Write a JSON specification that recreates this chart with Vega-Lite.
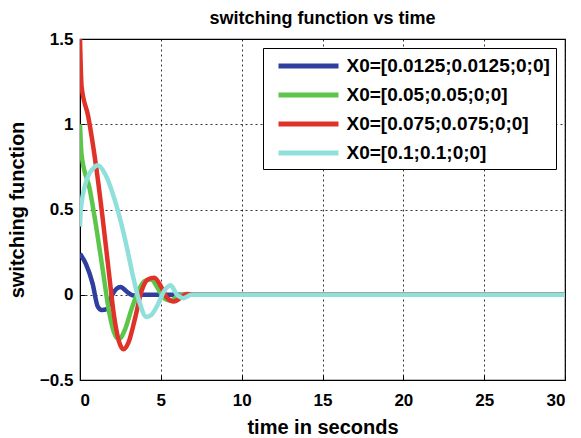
{
  "$schema": "https://vega.github.io/schema/vega-lite/v6.json",
  "width": 485,
  "height": 341,
  "autosize": "none",
  "padding": {"left": 80, "top": 39, "right": 15, "bottom": 58},
  "background": "white",
  "title": {"text": "switching function vs time", "font": "Liberation Sans", "fontSize": 18, "fontWeight": "bold", "color": "black", "offset": 2},
  "config": {
    "view": {"stroke": "black", "strokeWidth": 1.2},
    "axis": {
      "labelFont": "Liberation Sans", "labelFontSize": 17, "labelFontWeight": "bold", "labelColor": "black",
      "titleFont": "Liberation Sans", "titleFontSize": 20, "titleFontWeight": "bold", "titleColor": "black",
      "domainColor": "black", "tickColor": "black", "gridColor": "black", "gridDash": [2, 3], "gridOpacity": 1, "gridWidth": 0.8
    }
  },
  "data": {"values": [
    {"s": "X0=[0.0125;0.0125;0;0]", "t": 0, "v": 0.24},
    {"s": "X0=[0.0125;0.0125;0;0]", "t": 0.37, "v": 0.18},
    {"s": "X0=[0.0125;0.0125;0;0]", "t": 0.78, "v": 0.065},
    {"s": "X0=[0.0125;0.0125;0;0]", "t": 1.1, "v": -0.07},
    {"s": "X0=[0.0125;0.0125;0;0]", "t": 1.35, "v": -0.09},
    {"s": "X0=[0.0125;0.0125;0;0]", "t": 1.65, "v": -0.085},
    {"s": "X0=[0.0125;0.0125;0;0]", "t": 2.0, "v": 0.0},
    {"s": "X0=[0.0125;0.0125;0;0]", "t": 2.5, "v": 0.045},
    {"s": "X0=[0.0125;0.0125;0;0]", "t": 3.0, "v": 0.01},
    {"s": "X0=[0.0125;0.0125;0;0]", "t": 3.3, "v": -0.005},
    {"s": "X0=[0.0125;0.0125;0;0]", "t": 3.7, "v": 0},
    {"s": "X0=[0.0125;0.0125;0;0]", "t": 30, "v": 0},
    {"s": "X0=[0.05;0.05;0;0]", "t": 0, "v": 1.0},
    {"s": "X0=[0.05;0.05;0;0]", "t": 0.1, "v": 0.82},
    {"s": "X0=[0.05;0.05;0;0]", "t": 0.6, "v": 0.62},
    {"s": "X0=[0.05;0.05;0;0]", "t": 1.0, "v": 0.4},
    {"s": "X0=[0.05;0.05;0;0]", "t": 1.4, "v": 0.15},
    {"s": "X0=[0.05;0.05;0;0]", "t": 1.8, "v": -0.1},
    {"s": "X0=[0.05;0.05;0;0]", "t": 2.1, "v": -0.22},
    {"s": "X0=[0.05;0.05;0;0]", "t": 2.4, "v": -0.26},
    {"s": "X0=[0.05;0.05;0;0]", "t": 2.8, "v": -0.2},
    {"s": "X0=[0.05;0.05;0;0]", "t": 3.2, "v": -0.08},
    {"s": "X0=[0.05;0.05;0;0]", "t": 3.6, "v": 0.02},
    {"s": "X0=[0.05;0.05;0;0]", "t": 4.0, "v": 0.08},
    {"s": "X0=[0.05;0.05;0;0]", "t": 4.4, "v": 0.09},
    {"s": "X0=[0.05;0.05;0;0]", "t": 4.8, "v": 0.04},
    {"s": "X0=[0.05;0.05;0;0]", "t": 5.2, "v": -0.02},
    {"s": "X0=[0.05;0.05;0;0]", "t": 5.6, "v": -0.035},
    {"s": "X0=[0.05;0.05;0;0]", "t": 6.0, "v": -0.01},
    {"s": "X0=[0.05;0.05;0;0]", "t": 6.4, "v": 0},
    {"s": "X0=[0.05;0.05;0;0]", "t": 30, "v": 0},
    {"s": "X0=[0.075;0.075;0;0]", "t": 0, "v": 1.5},
    {"s": "X0=[0.075;0.075;0;0]", "t": 0.1, "v": 1.22},
    {"s": "X0=[0.075;0.075;0;0]", "t": 0.5, "v": 1.05},
    {"s": "X0=[0.075;0.075;0;0]", "t": 1.0, "v": 0.75},
    {"s": "X0=[0.075;0.075;0;0]", "t": 1.4, "v": 0.45},
    {"s": "X0=[0.075;0.075;0;0]", "t": 1.8, "v": 0.12},
    {"s": "X0=[0.075;0.075;0;0]", "t": 2.1, "v": -0.12},
    {"s": "X0=[0.075;0.075;0;0]", "t": 2.4, "v": -0.27},
    {"s": "X0=[0.075;0.075;0;0]", "t": 2.7, "v": -0.32},
    {"s": "X0=[0.075;0.075;0;0]", "t": 3.0, "v": -0.28},
    {"s": "X0=[0.075;0.075;0;0]", "t": 3.4, "v": -0.14},
    {"s": "X0=[0.075;0.075;0;0]", "t": 3.8, "v": 0.02},
    {"s": "X0=[0.075;0.075;0;0]", "t": 4.2, "v": 0.09},
    {"s": "X0=[0.075;0.075;0;0]", "t": 4.6, "v": 0.1},
    {"s": "X0=[0.075;0.075;0;0]", "t": 5.0, "v": 0.05},
    {"s": "X0=[0.075;0.075;0;0]", "t": 5.4, "v": -0.02},
    {"s": "X0=[0.075;0.075;0;0]", "t": 5.8, "v": -0.04},
    {"s": "X0=[0.075;0.075;0;0]", "t": 6.2, "v": -0.02},
    {"s": "X0=[0.075;0.075;0;0]", "t": 6.6, "v": 0.005},
    {"s": "X0=[0.075;0.075;0;0]", "t": 7.0, "v": 0},
    {"s": "X0=[0.075;0.075;0;0]", "t": 30, "v": 0},
    {"s": "X0=[0.1;0.1;0;0]", "t": 0, "v": 0.4},
    {"s": "X0=[0.1;0.1;0;0]", "t": 0.05, "v": 0.5},
    {"s": "X0=[0.1;0.1;0;0]", "t": 0.4, "v": 0.67},
    {"s": "X0=[0.1;0.1;0;0]", "t": 0.8, "v": 0.74},
    {"s": "X0=[0.1;0.1;0;0]", "t": 1.1, "v": 0.76},
    {"s": "X0=[0.1;0.1;0;0]", "t": 1.6, "v": 0.7},
    {"s": "X0=[0.1;0.1;0;0]", "t": 2.2, "v": 0.54},
    {"s": "X0=[0.1;0.1;0;0]", "t": 2.8, "v": 0.32},
    {"s": "X0=[0.1;0.1;0;0]", "t": 3.3, "v": 0.1},
    {"s": "X0=[0.1;0.1;0;0]", "t": 3.7, "v": -0.05},
    {"s": "X0=[0.1;0.1;0;0]", "t": 4.1, "v": -0.13},
    {"s": "X0=[0.1;0.1;0;0]", "t": 4.4, "v": -0.12},
    {"s": "X0=[0.1;0.1;0;0]", "t": 4.8, "v": -0.06},
    {"s": "X0=[0.1;0.1;0;0]", "t": 5.2, "v": 0.02},
    {"s": "X0=[0.1;0.1;0;0]", "t": 5.6, "v": 0.055},
    {"s": "X0=[0.1;0.1;0;0]", "t": 6.0, "v": 0.0},
    {"s": "X0=[0.1;0.1;0;0]", "t": 6.4, "v": -0.02},
    {"s": "X0=[0.1;0.1;0;0]", "t": 6.9, "v": 0},
    {"s": "X0=[0.1;0.1;0;0]", "t": 30, "v": 0}
  ]},
  "mark": {"type": "line", "strokeWidth": 4.5, "interpolate": "monotone", "clip": true},
  "encoding": {
    "x": {"field": "t", "type": "quantitative", "title": "time in seconds",
      "scale": {"domain": [0, 30], "nice": false},
      "axis": {"values": [0, 5, 10, 15, 20, 25, 30], "tickSize": -5, "labelPadding": 17, "titlePadding": 9, "format": "~g"}},
    "y": {"field": "v", "type": "quantitative", "title": "switching function",
      "scale": {"domain": [-0.5, 1.5], "nice": false, "zero": false},
      "axis": {"values": [-0.5, 0, 0.5, 1, 1.5], "tickSize": -5, "labelPadding": 12, "titlePadding": 12, "format": "~g"}},
    "color": {"field": "s", "type": "nominal", "sort": null,
      "scale": {"domain": ["X0=[0.0125;0.0125;0;0]", "X0=[0.05;0.05;0;0]", "X0=[0.075;0.075;0;0]", "X0=[0.1;0.1;0;0]"],
        "range": ["#2e3f9e", "#5cc64a", "#e1322a", "#8fe0da"]},
      "legend": {"title": null, "orient": "top-right", "offset": 9, "strokeColor": "black", "fillColor": "white",
        "padding": 5.5, "labelFont": "Liberation Sans", "labelFontSize": 19, "labelFontWeight": "bold", "labelColor": "black",
        "symbolType": "M-0.25,0H5.75", "symbolStrokeWidth": 5, "symbolSize": 400, "labelOffset": 53, "rowPadding": 6, "labelLimit": 400}}
  }
}
